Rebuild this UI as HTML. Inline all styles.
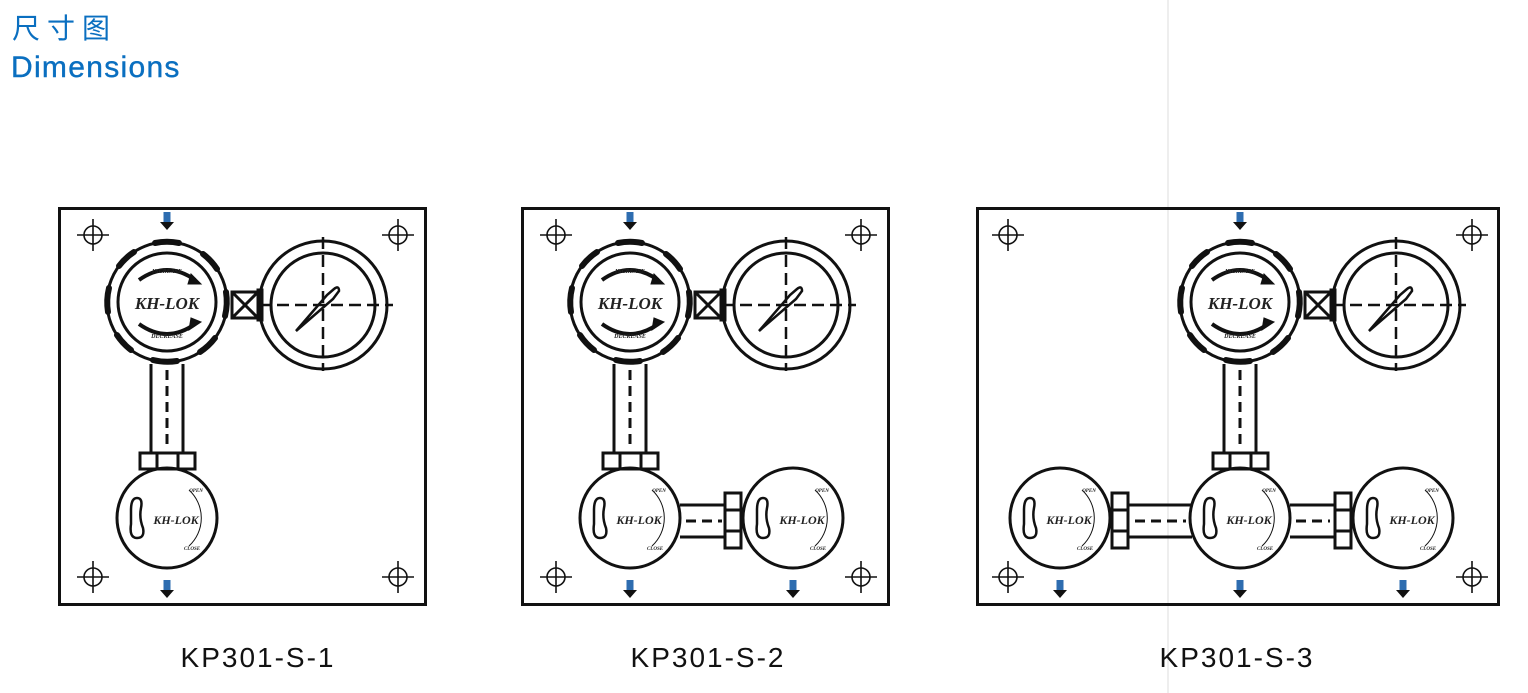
<!DOCTYPE html>
<html><head><meta charset="utf-8"><style>
html,body{margin:0;padding:0;background:#fff;width:1528px;height:693px;overflow:hidden}
svg{display:block}
</style></head><body>
<svg width="1528" height="693" viewBox="0 0 1528 693" xmlns="http://www.w3.org/2000/svg" font-family="Liberation Sans, sans-serif">
<defs>
<g id="cross"><circle cx="0" cy="0" r="9" fill="none" stroke="#111" stroke-width="1.6"/><line x1="-16" y1="0" x2="16" y2="0" stroke="#111" stroke-width="1.6"/><line x1="0" y1="-16" x2="0" y2="16" stroke="#111" stroke-width="1.6"/></g>
<g id="arr"><rect x="-3.5" y="-10" width="7" height="11" fill="#2e6db0"/><polygon points="-7,0 7,0 0,8" fill="#111"/></g>
<g id="knobshape" fill="none" stroke="#111">
<circle r="60" stroke-width="3"/>
<circle r="49" stroke-width="3"/>
<g stroke-width="6" stroke-linecap="round">
<path d="M -12 -59 A 60 60 0 0 1 12 -59"/><path d="M 36 -48 A 60 60 0 0 1 50 -33"/><path d="M 59 -10 A 60 60 0 0 1 58 14"/><path d="M 48 36 A 60 60 0 0 1 33 50"/><path d="M 10 59 A 60 60 0 0 1 -14 58"/><path d="M -36 48 A 60 60 0 0 1 -50 33"/><path d="M -59 10 A 60 60 0 0 1 -58 -14"/><path d="M -48 -36 A 60 60 0 0 1 -33 -50"/>
</g>
<path d="M -28 -22 Q 0 -42 28 -22" stroke-width="4"/><polygon points="24,-28 34,-18 21,-18" fill="#111"/>
<path d="M -28 22 Q 0 42 28 22" stroke-width="4"/><polygon points="24,16 34,20 22,28" fill="#111"/>
</g>
<g id="gauge" fill="none" stroke="#111">
<circle r="64" stroke-width="3"/><circle r="52" stroke-width="3"/>
<line x1="-64" y1="0" x2="70" y2="0" stroke-width="2.5" stroke-dasharray="12,6"/>
<line x1="0" y1="-68" x2="0" y2="66" stroke-width="2.5" stroke-dasharray="12,6"/>
<path d="M -27 26 L 4 -10 L 11 -16 Q 16 -20 16 -14 L 10 -6 Z" stroke-width="2.5"/>
</g>
<g id="valve" fill="none" stroke="#111">
<circle r="50" stroke-width="3"/>
<path d="M -36 -8 Q -36 -20 -30 -20 Q -24 -20 -26 -10 Q -28 0 -24 10 Q -22 20 -30 20 Q -38 20 -36 6 Z" stroke-width="2.5"/>
<path d="M 22 -28 A 38 38 0 0 1 22 28" stroke-width="1"/>
</g>
</defs>

<line x1="1168" y1="0" x2="1168" y2="693" stroke="#ddd" stroke-width="1"/>

<text x="12" y="38" font-family="Liberation Sans, Noto Sans CJK SC, sans-serif" font-size="28" fill="#0a6fc0" letter-spacing="7">尺寸图</text>
<text x="11" y="77" font-size="30" fill="#0a6fc0" stroke="#0a6fc0" stroke-width="0.4" letter-spacing="1.3">Dimensions</text>

<!-- Panel 1 -->
<rect x="59.5" y="208.5" width="366" height="396" fill="none" stroke="#111" stroke-width="3"/>
<use href="#cross" x="93" y="235"/><use href="#cross" x="398" y="235"/><use href="#cross" x="93" y="577"/><use href="#cross" x="398" y="577"/>
<use href="#arr" x="167" y="222"/><use href="#arr" x="167" y="590"/>
<g fill="none" stroke="#111" stroke-width="3">
<rect x="232" y="292" width="26" height="26"/><line x1="232" y1="292" x2="258" y2="318"/><line x1="258" y1="292" x2="232" y2="318"/><rect x="258" y="290" width="4" height="30"/>
<path d="M 151 364 L 151 453 M 183 364 L 183 453"/>
<line x1="167" y1="370" x2="167" y2="450" stroke-dasharray="10,6"/>
<rect x="140" y="453" width="55" height="16"/><line x1="157" y1="453" x2="157" y2="469"/><line x1="178" y1="453" x2="178" y2="469"/>
</g>
<use href="#knobshape" x="167" y="302"/>
<use href="#gauge" x="323" y="305"/>
<use href="#valve" x="167" y="518"/>
<g font-family="Liberation Serif, serif" font-weight="bold" font-style="italic" fill="#222" text-anchor="middle">
<text x="167" y="309" font-size="17">KH-LOK</text><text x="167" y="273" font-size="6">INCREASE</text><text x="167" y="338" font-size="6">DECREASE</text>
<text x="176" y="524" font-size="12">KH-LOK</text><text x="196" y="492" font-size="5">OPEN</text><text x="192" y="550" font-size="5">CLOSE</text>
</g>

<!-- Panel 2 -->
<rect x="522.5" y="208.5" width="366" height="396" fill="none" stroke="#111" stroke-width="3"/>
<use href="#cross" x="556" y="235"/><use href="#cross" x="861" y="235"/><use href="#cross" x="556" y="577"/><use href="#cross" x="861" y="577"/>
<use href="#arr" x="630" y="222"/><use href="#arr" x="630" y="590"/><use href="#arr" x="793" y="590"/>
<g fill="none" stroke="#111" stroke-width="3">
<rect x="695" y="292" width="26" height="26"/><line x1="695" y1="292" x2="721" y2="318"/><line x1="721" y1="292" x2="695" y2="318"/><rect x="721" y="290" width="4" height="30"/>
<path d="M 614 364 L 614 453 M 646 364 L 646 453"/>
<line x1="630" y1="370" x2="630" y2="450" stroke-dasharray="10,6"/>
<rect x="603" y="453" width="55" height="16"/><line x1="620" y1="453" x2="620" y2="469"/><line x1="641" y1="453" x2="641" y2="469"/>
<path d="M 680 505 L 725 505 M 680 537 L 725 537"/><line x1="686" y1="521" x2="722" y2="521" stroke-dasharray="10,6"/>
<rect x="725" y="493" width="16" height="55"/><line x1="725" y1="510" x2="741" y2="510"/><line x1="725" y1="531" x2="741" y2="531"/>
</g>
<use href="#knobshape" x="630" y="302"/>
<use href="#gauge" x="786" y="305"/>
<use href="#valve" x="630" y="518"/><use href="#valve" x="793" y="518"/>
<g font-family="Liberation Serif, serif" font-weight="bold" font-style="italic" fill="#222" text-anchor="middle">
<text x="630" y="309" font-size="17">KH-LOK</text><text x="630" y="273" font-size="6">INCREASE</text><text x="630" y="338" font-size="6">DECREASE</text>
<text x="639" y="524" font-size="12">KH-LOK</text><text x="659" y="492" font-size="5">OPEN</text><text x="655" y="550" font-size="5">CLOSE</text>
<text x="802" y="524" font-size="12">KH-LOK</text><text x="822" y="492" font-size="5">OPEN</text><text x="818" y="550" font-size="5">CLOSE</text>
</g>

<!-- Panel 3 -->
<rect x="977.5" y="208.5" width="521" height="396" fill="none" stroke="#111" stroke-width="3"/>
<use href="#cross" x="1008" y="235"/><use href="#cross" x="1472" y="235"/><use href="#cross" x="1008" y="577"/><use href="#cross" x="1472" y="577"/>
<use href="#arr" x="1240" y="222"/><use href="#arr" x="1060" y="590"/><use href="#arr" x="1240" y="590"/><use href="#arr" x="1403" y="590"/>
<g fill="none" stroke="#111" stroke-width="3">
<rect x="1305" y="292" width="26" height="26"/><line x1="1305" y1="292" x2="1331" y2="318"/><line x1="1331" y1="292" x2="1305" y2="318"/><rect x="1331" y="290" width="4" height="30"/>
<path d="M 1224 364 L 1224 453 M 1256 364 L 1256 453"/>
<line x1="1240" y1="370" x2="1240" y2="450" stroke-dasharray="10,6"/>
<rect x="1213" y="453" width="55" height="16"/><line x1="1230" y1="453" x2="1230" y2="469"/><line x1="1251" y1="453" x2="1251" y2="469"/>
<path d="M 1128 505 L 1192 505 M 1128 537 L 1192 537"/><line x1="1135" y1="521" x2="1186" y2="521" stroke-dasharray="10,6"/>
<rect x="1112" y="493" width="16" height="55"/><line x1="1112" y1="510" x2="1128" y2="510"/><line x1="1112" y1="531" x2="1128" y2="531"/>
<path d="M 1290 505 L 1335 505 M 1290 537 L 1335 537"/><line x1="1296" y1="521" x2="1330" y2="521" stroke-dasharray="10,6"/>
<rect x="1335" y="493" width="16" height="55"/><line x1="1335" y1="510" x2="1351" y2="510"/><line x1="1335" y1="531" x2="1351" y2="531"/>
</g>
<use href="#knobshape" x="1240" y="302"/>
<use href="#gauge" x="1396" y="305"/>
<use href="#valve" x="1060" y="518"/><use href="#valve" x="1240" y="518"/><use href="#valve" x="1403" y="518"/>
<g font-family="Liberation Serif, serif" font-weight="bold" font-style="italic" fill="#222" text-anchor="middle">
<text x="1240" y="309" font-size="17">KH-LOK</text><text x="1240" y="273" font-size="6">INCREASE</text><text x="1240" y="338" font-size="6">DECREASE</text>
<text x="1069" y="524" font-size="12">KH-LOK</text><text x="1089" y="492" font-size="5">OPEN</text><text x="1085" y="550" font-size="5">CLOSE</text>
<text x="1249" y="524" font-size="12">KH-LOK</text><text x="1269" y="492" font-size="5">OPEN</text><text x="1265" y="550" font-size="5">CLOSE</text>
<text x="1412" y="524" font-size="12">KH-LOK</text><text x="1432" y="492" font-size="5">OPEN</text><text x="1428" y="550" font-size="5">CLOSE</text>
</g>

<g font-size="28" fill="#111" text-anchor="middle" letter-spacing="2">
<text x="258" y="667">KP301-S-1</text>
<text x="708" y="667">KP301-S-2</text>
<text x="1237" y="667">KP301-S-3</text>
</g>
</svg>
</body></html>
